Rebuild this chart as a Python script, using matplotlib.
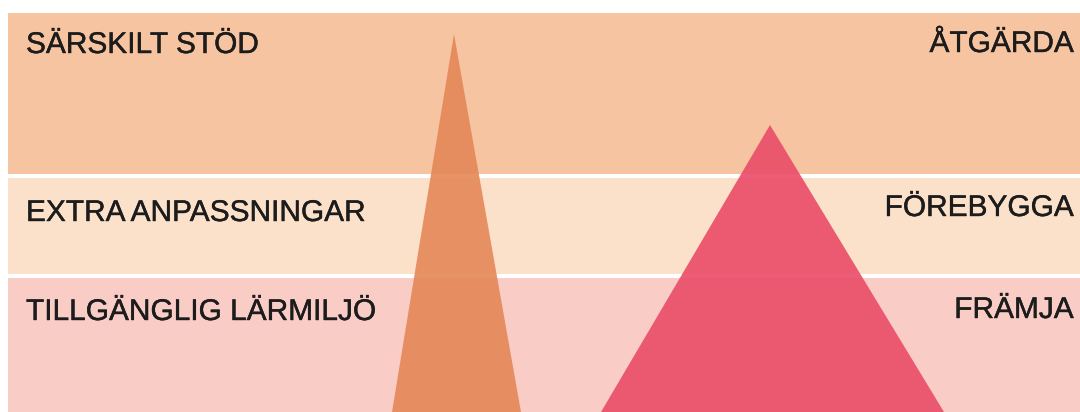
import matplotlib.pyplot as plt
import matplotlib.patheffects as pe
from matplotlib.patches import Polygon, Rectangle

# bands (pixel-like units, y grows downward)
band_left = ["SÄRSKILT STÖD", "EXTRA ANPASSNINGAR", "TILLGÄNGLIG LÄRMILJÖ"]
band_right = ["ÅTGÄRDA", "FÖREBYGGA", "FRÄMJA"]
band_top = [12.5, 177.5, 277.5]
band_bottom = [173.5, 274, 412]
band_colors = ["#F6C4A0", "#FBE0CA", "#F9CCC6"]
left_baseline = [53, 221, 320]
right_baseline = [52, 216, 318]

# triangles: apex x, apex y, base left, base right (base at bottom edge)
tri_apex_x = [454, 770]
tri_apex_y = [34, 125]
tri_base_left = [392, 601]
tri_base_right = [521, 944]
tri_colors = ["#E5895A", "#EA4F6A"]

W, H = 1080, 412
fig = plt.figure(figsize=(W / 100, H / 100), dpi=100)
ax = fig.add_axes([0, 0, 1, 1])
ax.set_xlim(0, W)
ax.set_ylim(H, 0)
ax.axis("off")

x0 = 8
for top, bot, c in zip(band_top, band_bottom, band_colors):
    ax.add_patch(Rectangle((x0, top), W - x0 + 5, bot - top, facecolor=c,
                           edgecolor="none", zorder=1))

for ax_, ay, bl, br, c in zip(tri_apex_x, tri_apex_y, tri_base_left, tri_base_right, tri_colors):
    ax.add_patch(Polygon([(ax_, ay), (bl, H), (br, H)], closed=True,
                         facecolor=c, edgecolor="none", alpha=0.92, zorder=2))

font = ["Liberation Sans", "DejaVu Sans"]
thick = [pe.withStroke(linewidth=0.3, foreground="#1c1c1c")]
for name, y in zip(band_left, left_baseline):
    ax.text(26, y, name, fontsize=21.5, family=font, color="#1c1c1c",
            ha="left", va="baseline", zorder=3, path_effects=thick)
for name, y in zip(band_right, right_baseline):
    ax.text(1074, y, name, fontsize=21.5, family=font, color="#1c1c1c",
            ha="right", va="baseline", zorder=3, path_effects=thick)

fig.savefig("out.png", dpi=100)
